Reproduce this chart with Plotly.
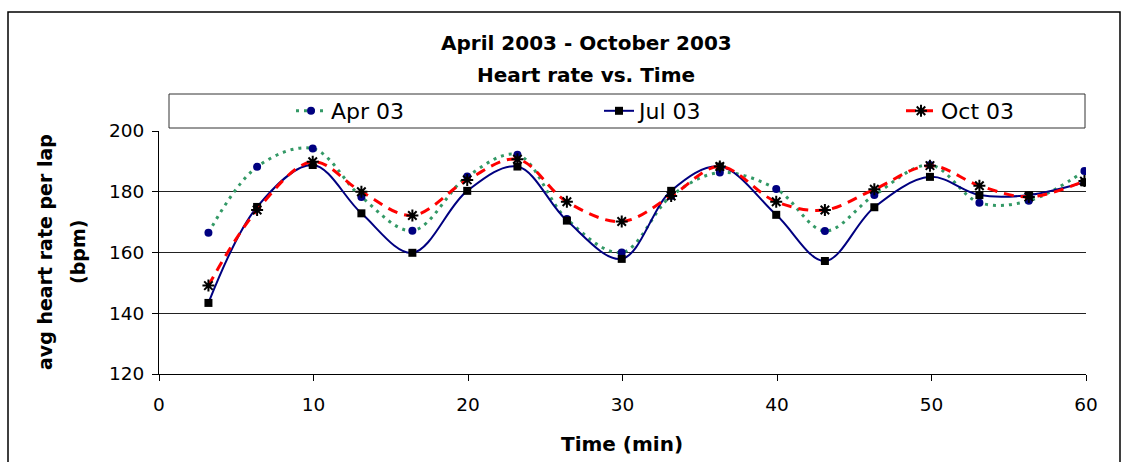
import plotly.graph_objects as go

# ---- data ----
time_min = [3.2, 6.35, 9.95, 13.1, 16.4, 19.95, 23.2, 26.4, 29.95, 33.15,
            36.3, 39.95, 43.1, 46.3, 49.9, 53.1, 56.3, 59.9]
apr03 = [166.5, 188.2, 194.2, 178.3, 167.2, 185.0, 192.2, 171.0, 160.0, 178.6,
         186.3, 180.9, 167.1, 178.9, 188.8, 176.4, 177.0, 186.8]
jul03 = [143.4, 175.0, 188.8, 172.9, 159.9, 180.3, 188.3, 170.5, 157.9, 180.3,
         188.3, 172.4, 157.2, 174.9, 184.9, 178.9, 178.9, 183.1]
oct03 = [149.1, 174.0, 189.9, 180.0, 172.2, 183.9, 190.7, 176.7, 170.2, 178.6,
         188.3, 176.7, 174.0, 180.8, 188.6, 182.0, 178.3, 183.5]
series_names = ["Apr 03", "Jul 03", "Oct 03"]
x_ticks = [0, 10, 20, 30, 40, 50, 60]
y_ticks = [120, 140, 160, 180, 200]
title_lines = ["April 2003 - October 2003", "Heart rate vs. Time"]
x_title = "Time (min)"
y_title_lines = ["avg heart rate per lap", "(bpm)"]

FONT = "DejaVu Sans, Liberation Sans, Arial, sans-serif"
W, H = 1122, 462
L, R, T, B = 159, 36, 131, 88
PW, PH = W - L - R, H - T - B


def px_x(p):
    return (p - L) / PW


def px_y(p):
    return (H - B - p) / PH


fig = go.Figure()

fig.add_trace(go.Scatter(
    x=time_min, y=apr03, name=series_names[0], mode="lines+markers", legend="legend",
    line=dict(color="#339966", width=3, dash="3px,5px", shape="spline", smoothing=1.0),
    marker=dict(symbol="circle", size=8, color="#000080", line=dict(width=0)),
))
fig.add_trace(go.Scatter(
    x=time_min, y=jul03, name=series_names[1], mode="lines+markers", legend="legend2",
    line=dict(color="#000080", width=2, shape="spline", smoothing=1.0),
    marker=dict(symbol="square", size=8, color="#000000", line=dict(width=0)),
))
fig.add_trace(go.Scatter(
    x=time_min, y=oct03, name=series_names[2], mode="lines+markers", legend="legend3",
    line=dict(color="#FF0000", width=3, dash="10px,7px", shape="spline", smoothing=1.0),
    marker=dict(symbol="asterisk-open", size=10, color="#000000",
                line=dict(width=2, color="#000000")),
))


def leg(xpix):
    return dict(
        orientation="h", x=px_x(xpix), xanchor="left", y=px_y(111), yanchor="middle",
        bgcolor="rgba(0,0,0,0)", borderwidth=0,
        font=dict(family=FONT, size=22, color="black"),
    )


fig.update_layout(
    width=W, height=H,
    margin=dict(l=L, r=R, t=T, b=B, pad=0),
    paper_bgcolor="white", plot_bgcolor="white",
    font=dict(family=FONT, size=18.5, color="black"),
    showlegend=True,
    legend=leg(291), legend2=leg(599), legend3=leg(901),
    xaxis=dict(
        range=[0, 60], tickvals=x_ticks, ticks="outside", ticklen=6, tickcolor="black",
        showline=True, linecolor="black", linewidth=1, showgrid=False, zeroline=False,
        tickfont=dict(family=FONT, size=18.5), ticklabelstandoff=8, fixedrange=True,
    ),
    yaxis=dict(
        range=[120, 200], tickvals=y_ticks, ticks="outside", ticklen=6, tickcolor="black",
        showline=True, linecolor="black", linewidth=1, showgrid=True, gridcolor="#222222",
        gridwidth=1, zeroline=False, tickfont=dict(family=FONT, size=18.5),
        ticklabelstandoff=4, fixedrange=True,
    ),
)

shapes = [
    # outer chart frame
    dict(type="rect", xref="paper", yref="paper",
         x0=px_x(8), x1=px_x(1120), y0=px_y(475), y1=px_y(12),
         line=dict(color="black", width=1.5), fillcolor="rgba(0,0,0,0)", layer="below"),
    # legend box
    dict(type="rect", xref="paper", yref="paper",
         x0=px_x(169), x1=px_x(1085), y0=px_y(128), y1=px_y(94),
         line=dict(color="#333333", width=1), fillcolor="white", layer="below"),
]
fig.update_layout(shapes=shapes)

annotations = [
    dict(text="<b>%s</b>" % title_lines[0], x=px_x(586), y=px_y(43), xref="paper", yref="paper",
         showarrow=False, xanchor="center", yanchor="middle", font=dict(size=20)),
    dict(text="<b>%s</b>" % title_lines[1], x=px_x(586), y=px_y(75), xref="paper", yref="paper",
         showarrow=False, xanchor="center", yanchor="middle", font=dict(size=20)),
    dict(text="<b>%s</b>" % x_title, x=px_x(622), y=px_y(444), xref="paper", yref="paper",
         showarrow=False, xanchor="center", yanchor="middle", font=dict(size=20)),
    dict(text="<b>%s</b>" % y_title_lines[0], x=px_x(45), y=px_y(252), xref="paper", yref="paper",
         showarrow=False, xanchor="center", yanchor="middle", textangle=-90, font=dict(size=19)),
    dict(text="<b>%s</b>" % y_title_lines[1], x=px_x(78), y=px_y(252), xref="paper", yref="paper",
         showarrow=False, xanchor="center", yanchor="middle", textangle=-90, font=dict(size=19)),
]
fig.update_layout(annotations=annotations)

fig.write_html(
    "out.html",
    config={"displayModeBar": False},
    post_script="document.body.style.margin='0';document.body.style.overflow='hidden';",
)
